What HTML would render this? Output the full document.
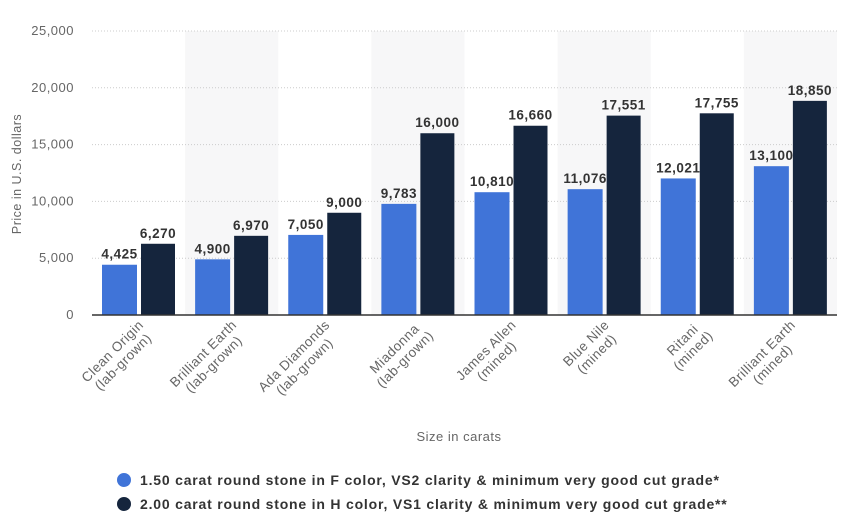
<!DOCTYPE html>
<html><head><meta charset="utf-8"><style>
body{margin:0;background:#fff;}
svg text{font-family:"Liberation Sans",sans-serif;letter-spacing:0.5px;}
</style></head><body>
<svg id="chart" width="850" height="527" xmlns="http://www.w3.org/2000/svg">
<g id="bands"></g><g id="grid"></g><g id="bars"></g><g id="labels"></g><g id="xlabels"></g>
<text transform="translate(21,174) rotate(-90)" text-anchor="middle" font-size="12.5" fill="#666">Price in U.S. dollars</text>
<text x="459" y="441" text-anchor="middle" font-size="13" fill="#666">Size in carats</text>
<g>
<g><circle cx="124" cy="480" r="7" fill="#4074d8"/><text x="140" y="485" font-size="14" font-weight="bold" fill="#333" style="letter-spacing:0.8px">1.50 carat round stone in F color, VS2 clarity &amp; minimum very good cut grade*</text></g>
<g><circle cx="124" cy="504" r="7" fill="#15253d"/><text x="140" y="509" font-size="14" font-weight="bold" fill="#333" style="letter-spacing:0.8px">2.00 carat round stone in H color, VS1 clarity &amp; minimum very good cut grade**</text></g>
</g>
</svg>
<script>
const categories=["Clean Origin|(lab-grown)","Brilliant Earth|(lab-grown)","Ada Diamonds|(lab-grown)","Miadonna|(lab-grown)","James Allen|(mined)","Blue Nile|(mined)","Ritani|(mined)","Brilliant Earth|(mined)"];
const series150=[4425,4900,7050,9783,10810,11076,12021,13100];
const series200=[6270,6970,9000,16000,16660,17551,17755,18850];
const yTicks=[0,5000,10000,15000,20000,25000];
const NS="http://www.w3.org/2000/svg";
const x0=92,x1=837,y0=315,y1=31,yMax=25000;
const cw=(x1-x0)/categories.length;
const y=v=>y0-(v/yMax)*(y0-y1);
const xc=i=>x0+i*cw;
function mk(tag,attrs,parent,txt){const e=document.createElementNS(NS,tag);for(const k in attrs)e.setAttribute(k,attrs[k]);if(txt!==undefined)e.textContent=txt;document.getElementById(parent).appendChild(e);return e;}
categories.forEach((c,i)=>{if(i%2===1){const b=mk('rect',{x:xc(i),y:y1,width:cw,height:y0-y1,fill:'#f7f7f8'},'bands');

}});
yTicks.forEach(t=>{
 if(t>0){const l=mk('line',{x1:x0,x2:x1,y1:y(t),y2:y(t),stroke:'#ccc','stroke-dasharray':'1,2'},'grid');
 
 }
 const tx=mk('text',{x:74,y:y(t)+4,'text-anchor':'end','font-size':13,fill:'#666'},'grid',t.toLocaleString('en-US'));
 
 
});
categories.forEach((c,i)=>{
 const bx=xc(i)+10;
 const r1=mk('rect',{x:bx,y:y(series150[i]),width:35,height:y0-y(series150[i]),fill:'#4074d8'},'bars');
 
 
 const r2=mk('rect',{x:bx+39,y:y(series200[i]),width:34,height:y0-y(series200[i]),fill:'#15253d'},'bars');
 
 
 const l1=mk('text',{x:bx+17.5,y:y(series150[i])-6,'text-anchor':'middle','font-size':13.5,'font-weight':'bold',fill:'#333'},'labels',series150[i].toLocaleString('en-US'));
 
 
 const l2=mk('text',{x:bx+56,y:y(series200[i])-6,'text-anchor':'middle','font-size':13.5,'font-weight':'bold',fill:'#333'},'labels',series200[i].toLocaleString('en-US'));
 
 
 const cx=xc(i)+cw/2+10,cy=330;
 const parts=c.split('|');
 const g=mk('text',{transform:`translate(${cx},${cy}) rotate(-45)`,'text-anchor':'middle','font-size':13.5,fill:'#666'},'xlabels');
 
 
 const spans=parts.map((p,k)=>{const ts=document.createElementNS(NS,'tspan');ts.setAttribute('dy',k===0?-6:15);ts.textContent=p;g.appendChild(ts);return ts;});
 const W=Math.max(...spans.map(s=>s.getComputedTextLength()));
 spans.forEach(s=>s.setAttribute('x',-W/2));
});
mk('line',{x1:x0,x2:x1,y1:y0,y2:y0,stroke:'#333','stroke-width':1.5},'bars');
</script>
</body></html>
